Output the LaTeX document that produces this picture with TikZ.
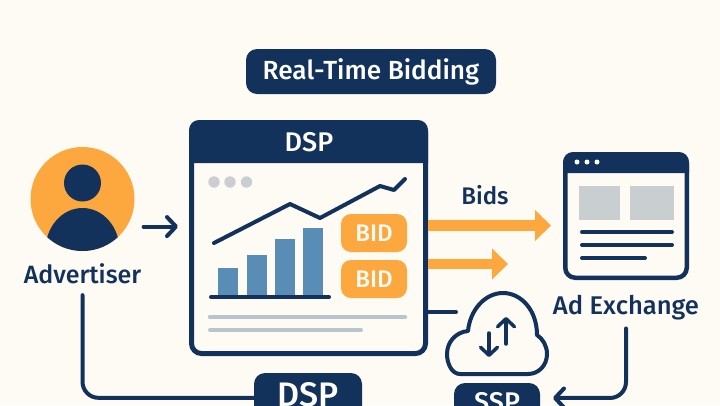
\documentclass[tikz,border=0pt]{standalone}
\usepackage{xcolor}
\usepackage{fontspec}
\setmainfont{Fira Sans}[BoldFont={Fira Sans Medium}]
\definecolor{paper}{HTML}{FEFBF5}
\definecolor{navy}{HTML}{13325B}
\definecolor{amber}{HTML}{FDA83F}
\definecolor{steel}{HTML}{5A8DB5}
\definecolor{ash}{HTML}{C9CED1}
\definecolor{rule}{HTML}{B9C5CC}
\usetikzlibrary{arrows.meta,positioning,calc}
\newcommand{\px}[1]{\fontsize{#1}{#1}\selectfont\bfseries}
\tikzset{
  flow/.style={draw=navy, line width=4pt, line cap=round, rounded corners=16pt},
  barb/.style={-{Straight Barb[length=9pt,width=19pt,line width=4pt,round]}},
  smallbarb/.style={-{Straight Barb[length=8pt,width=17pt,line width=3.5pt,round]}},
  bidflow/.style={draw=amber, -{Triangle[length=16pt,width=30pt]}},
  winbox/.style={draw=navy, fill=paper, rounded corners=10pt, inner sep=0pt, outer sep=0pt},
  pill/.style={fill=navy, text=white, rounded corners=11pt, inner sep=0pt, outer sep=0pt},
  bidpill/.style={fill=amber, text=paper, rounded corners=10pt, minimum width=66pt, minimum height=38pt, inner sep=0pt, outer sep=0pt},
  caption/.style={text=navy, inner sep=0pt, outer sep=0pt}
}
\begin{document}
\begin{tikzpicture}[x=1pt,y=-1pt]
    \useasboundingbox (0,0) rectangle (720,405);
    \clip (0,0) rectangle (720,405);
    \fill[paper] (0,0) rectangle (720,405);
    % Title
    \node[pill, minimum width=250pt, minimum height=45pt, font=\px{26.2}] (title) at (371,71.5) {Real-Time Bidding};
    % Advertiser
    \node[circle, fill=amber, minimum size=104pt, inner sep=0pt, outer sep=0pt] (advertiser) at (82.5,199) {};
    \begin{scope}
      \clip (82.5,199) circle [radius=52];
      \fill[navy] (82.5,250) ellipse [x radius=37, y radius=42];
    \end{scope}
    \fill[navy] (82.5,183) circle [radius=18.5];
    \node[caption, font=\px{25}] (advlabel) at (82.5,274) {Advertiser};
    % DSP window
    \node[winbox, line width=5pt, minimum width=234pt, minimum height=231pt] (dspwin) at (308.5,238) {};
    \fill[navy, rounded corners=10pt] (189,163) -- (189,120) -- (428,120) -- (428,163);
    \node[text=white, font=\px{27}, inner sep=0pt] (dsptitle) at (309,142) {DSP};
    \foreach \x in {214,230,246.5} {
      \fill[ash] (\x,182) circle [radius=5.7];
    }
    % Chart
    \foreach \x/\top in {218/268, 247/254.5, 275/239, 303/228} {
      \fill[steel] (\x,\top) rectangle (\x+20,296);
    }
    \draw[navy, line width=4pt, line cap=round] (211,297) -- (329,297);
    \draw[navy, line width=4pt, line cap=round, line join=round] (214,243) -- (290,204) -- (320,218) -- (380,186) -- (394,190) -- (405,179);
    \node[bidpill, font=\px{24}] (bidone) at (374,233) {BID};
    \node[bidpill, font=\px{24}] (bidtwo) at (374,279) {BID};
    \draw[rule, line width=4.5pt, line cap=round] (210,317) -- (405,317);
    \draw[rule, line width=4pt, line cap=round] (210,330) -- (361,330);
    % Ad exchange window
    \node[winbox, line width=4.5pt, minimum width=121.5pt, minimum height=123.5pt] (adx) at (626,216) {};
    \fill[navy, rounded corners=10pt] (563,173) -- (563,152) -- (689,152) -- (689,173);
    \foreach \x in {577,587,597} {
      \fill[white] (\x,162) circle [radius=2.5];
    }
    \fill[ash] (579,186) rectangle (620,220);
    \fill[ash] (630,186) rectangle (674,220);
    \foreach \y/\xend in {232/672, 245/672, 258/645} {
      \draw[navy, line width=4pt, line cap=round] (582,\y) -- (\xend,\y);
    }
    \node[caption, font=\px{25.6}] (adxlabel) at (626,308) {Ad Exchange};
    % Bids
    \coordinate (bidendone) at (551,225.5);
    \coordinate (bidendtwo) at (508,264);
    \draw[bidflow, line width=11pt, shorten <=2.5pt] (bidendone -| dspwin.east) -- (bidendone);
    \draw[bidflow, line width=10pt, shorten <=2.5pt] (bidendtwo -| dspwin.east) -- (bidendtwo);
    \node[caption, font=\px{24}] (bidslabel) at (485,195) {Bids};
    % Cloud
    \draw[navy, fill=paper, line width=4pt, line join=round]
      (460,374) .. controls (452,374) and (447,364) .. (447,354)
      .. controls (447,342) and (456,332) .. (468,331)
      .. controls (470,310) and (485,293) .. (503,293)
      .. controls (521,293) and (537,310) .. (537,335)
      .. controls (543,339) and (547,346) .. (547,354)
      .. controls (547,366) and (538,374) .. (528,374) -- cycle;
    \coordinate (upfoot) at (506,344);
    \coordinate (uptip) at (506,317);
    \coordinate (downfoot) at (489,333);
    \coordinate (downtip) at (489,357);
    \draw[flow, line width=3.5pt, smallbarb] (upfoot) -- (uptip);
    \draw[flow, line width=3.5pt, smallbarb] (downfoot) -- (downtip);
    \coordinate (cloudin) at (456,312);
    % Bottom pills
    \node[pill, minimum width=108pt, minimum height=44pt, font=\px{34}] (dsppill) at (308,395) {DSP};
    \node[pill, minimum width=86pt, minimum height=39pt, font=\px{27}] (ssppill) at (497,402.5) {SSP};
    % Connectors
    \draw[flow, barb, shorten <=17pt, shorten >=13.5pt] (advertiser.-32.6) -- (advertiser.-32.6 -| dspwin.west);
    \draw[flow] (cloudin -| dspwin.east) -- (cloudin);
    \draw[flow, shorten <=11pt] (advlabel.south) |- (dsppill.183);
    \draw[flow, barb, shorten <=8pt, shorten >=13pt] (adxlabel.south) |- (ssppill.6);
  \end{tikzpicture}
\end{document}
